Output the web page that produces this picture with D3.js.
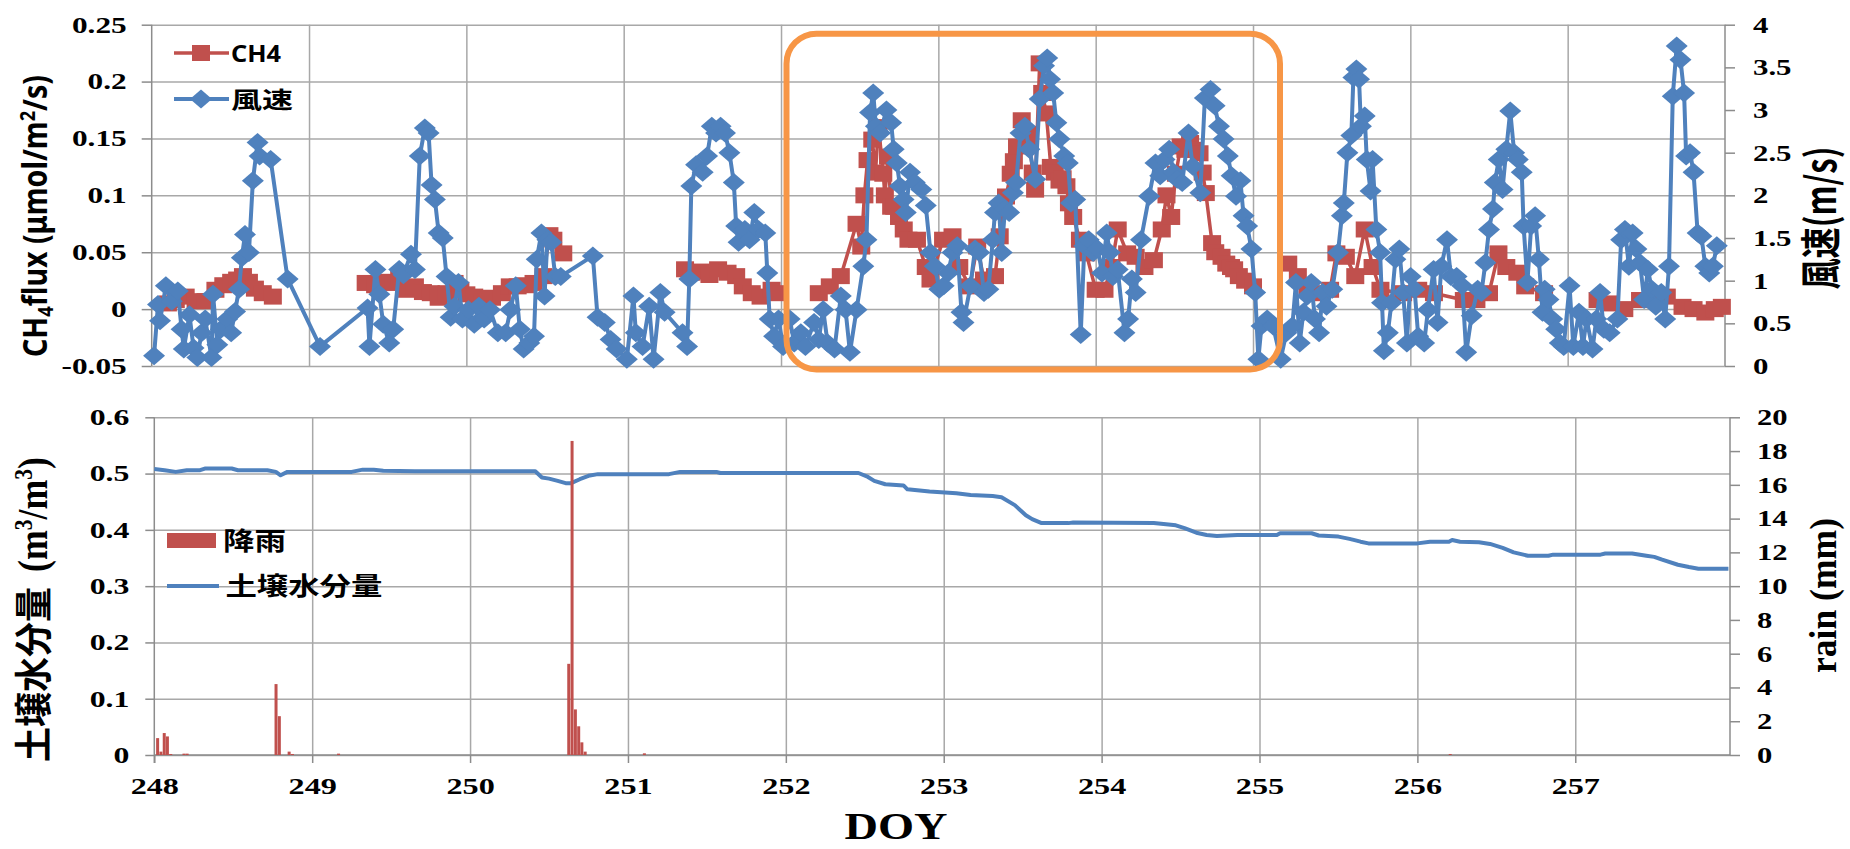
<!DOCTYPE html>
<html><head><meta charset="utf-8">
<script src="https://cdn.jsdelivr.net/npm/d3@7"></script>
<style>body{margin:0;background:#fff}svg{display:block}</style>
</head><body>
<svg id="c" width="1850" height="849"></svg>
<script>
// ---------- DATA ----------
const windDay = [248.015,248.04,248.053,248.09,248.128,248.166,248.19,248.204,248.24,248.266,248.29,248.317,248.34,248.38,248.39,248.417,248.44,248.48,248.505,248.53,248.555,248.573,248.593,248.618,248.643,248.673,248.686,248.756,248.864,249.07,249.372,249.384,249.422,249.447,249.472,249.51,249.535,249.573,249.6,249.648,249.673,249.704,249.736,249.76,249.779,249.8,249.824,249.85,249.874,249.9,249.925,249.95,249.975,250.013,250.05,250.08,250.113,250.15,250.2,250.25,250.28,250.314,250.34,250.364,250.4,250.43,250.447,250.477,250.497,250.515,250.54,250.565,250.6,250.804,250.834,250.88,250.917,250.955,
251.02,251.062,251.077,251.12,251.162,251.19,251.233,251.26,251.374,251.403,251.417,251.43,251.46,251.502,251.53,251.56,251.587,251.616,251.644,251.672,251.7,251.715,251.73,251.77,251.8,251.83,251.857,251.9,251.913,251.928,251.956,251.984,252.013,252.055,252.084,252.126,252.155,252.21,252.24,252.268,252.296,252.34,252.38,252.41,252.438,252.48,252.523,252.543,252.566,252.586,252.603,252.63,252.67,252.7,252.716,252.736,252.756,252.779,252.793,252.82,252.85,252.892,252.92,252.95,252.977,253.006,253.034,253.062,253.09,253.12,253.147,253.16,253.204,253.233,253.26,253.29,253.318,253.346,253.36,253.383,253.403,253.423,253.45,253.474,253.494,253.522,253.55,253.579,253.616,253.644,253.672,253.692,253.71,253.73,253.75,253.77,253.8,253.823,253.843,253.87,253.905,253.928,253.956,253.984,254.013,254.04,254.07,254.09,254.11,254.14,254.183,254.206,254.23,254.254,254.288,254.34,254.38,254.41,254.438,254.467,254.495,254.518,254.55,254.59,254.617,254.665,254.694,254.73,254.756,254.784,254.813,254.84,254.864,254.892,254.92,254.94,254.963,254.99,255.014,255.034,
255.054,255.09,255.127,255.176,255.212,255.25,255.273,255.297,255.32,255.346,255.37,255.394,255.42,255.443,255.467,255.504,255.54,255.565,255.577,255.6,255.625,255.638,255.657,255.674,255.686,255.71,255.723,255.747,255.76,255.784,255.808,255.82,255.832,255.857,255.88,255.905,255.93,255.954,255.978,256.002,256.027,256.05,256.088,256.112,256.148,256.173,256.197,256.233,256.258,256.294,256.33,256.355,256.39,256.428,256.452,256.477,256.5,256.525,256.537,256.562,256.586,256.61,256.635,256.66,256.683,256.708,256.72,256.744,256.768,256.793,256.817,256.84,256.854,256.878,256.902,256.927,256.95,256.975,257.012,257.036,257.072,257.097,257.12,257.158,257.182,257.206,257.23,257.267,257.316,257.34,257.364,257.389,257.413,257.437,257.46,257.486,257.51,257.535,257.56,257.595,257.62,257.644,257.668,257.693,257.717,257.74,257.753,257.778,257.8,257.826,257.85,257.875,257.9,257.923,257.948];
const windSpeed = [0.12,0.72,0.53,0.94,0.76,0.88,0.43,0.2,0.6,0.21,0.1,0.39,0.55,0.1,0.84,0.25,0.43,0.55,0.39,0.64,0.9,1.27,1.54,1.33,2.17,2.62,2.46,2.42,1.02,0.23,0.68,0.23,1.13,0.84,0.49,0.27,0.43,1.13,1.07,1.31,1.13,2.46,2.79,2.73,2.12,1.95,1.56,1.5,1.05,0.57,0.7,0.98,0.55,0.66,0.49,0.7,0.55,0.66,0.39,0.39,0.66,0.94,0.43,0.2,0.27,0.35,1.25,1.56,0.82,1.48,1.45,1.05,1.05,1.29,0.57,0.51,0.31,0.2,
0.08,0.82,0.39,0.23,0.7,0.08,0.86,0.63,0.39,0.23,1.02,2.11,2.36,2.27,2.46,2.81,2.73,2.81,2.73,2.5,2.15,1.64,1.45,1.6,1.48,1.8,1.6,1.56,1.09,0.55,0.35,0.55,0.23,0.55,0.27,0.39,0.23,0.51,0.31,0.66,0.27,0.2,0.82,0.66,0.16,0.66,1.17,1.48,2.97,3.2,2.81,2.73,3.0,2.85,2.54,2.38,2.11,1.95,1.8,2.27,2.15,2.07,1.88,1.33,1.17,0.9,0.94,1.09,1.33,1.41,0.63,0.51,0.94,1.37,1.33,0.86,0.9,1.48,1.8,1.91,1.33,1.84,1.8,2.03,2.15,2.73,2.81,2.54,2.19,3.13,3.52,3.61,3.36,3.2,2.85,2.66,2.46,2.38,1.91,1.95,0.37,1.41,1.48,1.33,1.37,1.09,1.56,1.33,1.05,1.13,0.39,0.55,1.02,0.86,1.48,1.99,2.38,2.23,2.42,2.54,2.27,2.19,2.15,2.73,2.34,2.03,3.14,3.24,3.05,2.81,2.66,2.46,2.23,1.99,2.17,1.76,1.64,1.37,0.86,0.08,
0.47,0.55,0.47,0.08,0.39,0.47,0.98,0.27,0.63,0.82,0.98,0.55,0.39,0.86,0.7,0.9,1.33,1.76,1.91,2.5,2.7,3.38,3.48,3.36,2.81,2.93,2.42,2.05,2.42,1.6,1.33,0.74,0.18,0.39,0.74,1.25,1.37,0.86,0.27,1.05,0.9,0.35,0.27,0.66,1.13,0.51,1.17,1.48,1.05,1.05,0.94,0.16,0.59,0.9,0.86,1.21,1.6,1.84,2.15,2.42,2.07,2.54,2.99,2.5,2.42,2.27,1.64,0.98,1.64,1.76,1.25,0.63,0.9,0.78,0.55,0.43,0.27,0.23,0.94,0.23,0.63,0.23,0.55,0.2,0.55,0.86,0.43,0.39,0.55,1.48,1.6,1.17,1.56,1.37,1.21,0.78,1.13,0.9,0.7,0.86,0.55,1.17,3.16,3.75,3.59,3.2,2.46,2.5,2.27,1.56,1.52,1.17,1.09,1.17,1.41];

const ch4Day = [248.103,248.153,248.216,248.279,248.342,248.405,248.455,248.505,248.543,248.58,248.618,248.656,248.706,248.77,249.36,249.42,249.47,249.535,249.573,249.623,249.673,249.724,249.774,249.824,249.874,249.925,249.962,250.0,250.05,250.1,250.163,250.226,250.276,250.326,250.374,250.427,250.49,250.528,250.553,250.616,251.39,251.43,251.49,251.545,251.6,251.66,251.715,251.757,251.814,251.87,251.94,251.984,252.24,252.31,252.38,252.48,252.51,252.53,252.55,252.58,252.6,252.62,252.65,252.66,252.68,252.7,252.72,252.75,252.78,252.81,252.864,252.92,252.95,253.03,253.09,253.133,253.2,253.247,253.29,253.36,253.39,253.43,253.46,253.48,253.5,253.53,253.56,253.573,253.6,253.615,253.644,253.66,253.686,253.715,253.74,253.77,253.79,253.814,253.83,253.857,253.9,253.94,254.0,254.056,254.1,254.14,254.2,254.254,254.31,254.37,254.42,254.45,254.48,254.51,254.54,254.57,254.6,254.63,254.66,254.68,254.7,254.74,254.76,254.8,254.83,254.86,254.88,254.91,254.95,255.0,255.224,255.285,255.346,255.42,255.49,255.53,255.59,255.65,255.71,255.76,255.81,255.954,256.05,256.15,256.34,256.42,256.5,256.56,256.61,256.68,256.73,256.85,257.19,257.27,257.36,257.46,257.56,257.63,257.73,257.8,257.875,257.935,257.98];
const ch4Flux = [0.005,0.008,0.011,0.007,0.007,0.017,0.021,0.024,0.026,0.029,0.024,0.018,0.014,0.011,0.023,0.021,0.024,0.023,0.029,0.017,0.02,0.015,0.014,0.01,0.014,0.023,0.017,0.013,0.011,0.007,0.01,0.014,0.02,0.02,0.021,0.023,0.029,0.065,0.061,0.049,0.035,0.032,0.033,0.03,0.035,0.032,0.029,0.02,0.014,0.011,0.017,0.014,0.014,0.02,0.029,0.075,0.055,0.1,0.131,0.149,0.12,0.16,0.119,0.1,0.134,0.09,0.09,0.081,0.07,0.061,0.061,0.037,0.026,0.061,0.064,0.037,0.02,0.055,0.026,0.029,0.064,0.099,0.119,0.13,0.143,0.166,0.15,0.154,0.12,0.105,0.216,0.19,0.172,0.125,0.12,0.113,0.115,0.108,0.093,0.081,0.061,0.049,0.017,0.017,0.037,0.07,0.049,0.046,0.037,0.043,0.07,0.1,0.081,0.119,0.143,0.14,0.146,0.14,0.137,0.12,0.102,0.058,0.05,0.046,0.04,0.037,0.035,0.029,0.025,0.02,0.04,0.029,0.02,0.014,0.017,0.049,0.046,0.029,0.07,0.037,0.017,0.014,0.017,0.014,0.008,0.008,0.014,0.049,0.037,0.032,0.02,0.014,0.008,0.005,0.0,0.008,0.011,0.011,0.002,0.0,-0.003,0.0,0.002];

const soilDay = [248.0,248.065,248.136,248.206,248.29,248.32,248.49,248.53,248.716,248.77,248.8,248.843,249.25,249.32,249.39,249.45,249.65,250.413,250.455,250.5,250.555,250.605,250.64,250.695,250.75,250.81,251.26,251.33,251.56,251.585,252.46,252.52,252.56,252.63,252.745,252.77,252.91,253.08,253.17,253.31,253.366,253.45,253.52,253.56,253.62,253.79,253.82,254.33,254.47,254.525,254.6,254.665,254.73,254.86,255.11,255.13,255.33,255.375,255.5,255.57,255.64,255.69,256.0,256.08,256.2,256.22,256.27,256.39,256.46,256.54,256.61,256.7,256.83,256.86,257.16,257.19,257.36,257.45,257.5,257.55,257.65,257.72,257.78,257.97];
const soilMoisture = [0.508,0.506,0.503,0.506,0.506,0.509,0.509,0.506,0.506,0.503,0.497,0.503,0.503,0.507,0.507,0.505,0.504,0.504,0.493,0.491,0.487,0.483,0.483,0.49,0.496,0.499,0.499,0.503,0.503,0.501,0.501,0.494,0.487,0.481,0.479,0.472,0.468,0.465,0.462,0.46,0.458,0.444,0.426,0.419,0.412,0.412,0.413,0.412,0.408,0.403,0.395,0.391,0.389,0.391,0.391,0.394,0.394,0.39,0.388,0.384,0.379,0.376,0.376,0.379,0.379,0.382,0.379,0.378,0.375,0.368,0.36,0.354,0.354,0.356,0.356,0.358,0.358,0.354,0.352,0.347,0.338,0.334,0.331,0.331];

const rainDay = [248.021,248.042,248.063,248.083,248.104,248.188,248.208,248.771,248.792,248.854,248.875,249.167,250.625,250.646,250.667,250.688,250.708,250.729,251.104,256.208];
const rainMm  = [1.0,0.2,1.3,1.1,0.06,0.08,0.08,4.2,2.3,0.2,0.06,0.08,5.4,18.6,2.7,1.7,0.75,0.2,0.1,0.06];

const ch4Ticks = [-0.05,0,0.05,0.1,0.15,0.2,0.25];
const ch4TickLabels = ['-0.05','0','0.05','0.1','0.15','0.2','0.25'];
const windTicks = [0,0.5,1,1.5,2,2.5,3,3.5,4];
const windTickLabels = ['0','0.5','1','1.5','2','2.5','3','3.5','4'];
const soilTicks = [0,0.1,0.2,0.3,0.4,0.5,0.6];
const soilTickLabels = ['0','0.1','0.2','0.3','0.4','0.5','0.6'];
const rainTicks = [0,2,4,6,8,10,12,14,16,18,20];
const dayTicks = [248,249,250,251,252,253,254,255,256,257];
const dayGrid = [249,250,251,252,253,254,255,256,257];

// ---------- SETUP ----------
const svg = d3.select('#c');
const GRID='#a8a8a8', AX='#8c8c8c', RED='#C0504D', BLUE='#4F81BD', ORANGE='#F79646';
const serif='"Liberation Serif","Times New Roman",serif';
const sans='"Noto Sans","DejaVu Sans",sans-serif';
const cjk='"Noto Sans CJK JP","Noto Sans CJK SC",sans-serif';

const T={l:151.7,r:1725,t:24.7,b:366};
const B={l:154.3,r:1730,t:417.3,b:755};

const xTop=d3.scaleLinear().domain([248,258]).range([T.l,T.r]);
const yCH4=d3.scaleLinear().domain([-0.05,0.25]).range([T.b,T.t]);
const yWind=d3.scaleLinear().domain([0,4]).range([T.b,T.t]);
const xBot=d3.scaleLinear().domain([248,257.98]).range([B.l,B.r]);
const ySoil=d3.scaleLinear().domain([0,0.6]).range([B.b,B.t]);
const yRain=d3.scaleLinear().domain([0,20]).range([B.b,B.t]);

function stretch(sel,k){ sel.each(function(){ const w=this.getComputedTextLength(); d3.select(this).attr('textLength',w*k).attr('lengthAdjust','spacingAndGlyphs'); }); }
function grid(g,axis){ g.call(axis); g.select('.domain').remove(); g.selectAll('text').remove(); g.selectAll('line').attr('stroke',GRID).attr('stroke-width',1.5); }
function styleAxis(g,k,fs){ g.attr('font-family',null).attr('font-size',null);
  g.select('.domain').remove(); g.selectAll('line').attr('stroke',AX).attr('stroke-width',1.5);
  g.selectAll('text').style('font-family',serif).style('font-weight','bold').style('font-size',(fs||23)+'px').attr('fill','#000'); stretch(g.selectAll('text'),k); }

// ---------- TOP PANEL ----------
svg.append('g').attr('transform',`translate(${T.l},0)`).call(g=>grid(g,d3.axisLeft(yCH4).tickValues(ch4Ticks).tickSize(-(T.r-T.l))));
svg.append('g').attr('transform',`translate(0,${T.b})`).call(g=>grid(g,d3.axisBottom(xTop).tickValues(dayGrid).tickSizeInner(-(T.b-T.t))));
svg.append('g').attr('transform',`translate(${T.l},0)`).call(d3.axisLeft(yCH4).tickValues(ch4Ticks).tickFormat((d,i)=>ch4TickLabels[i]).tickSize(10).tickPadding(15)).call(g=>styleAxis(g,1.36));
svg.append('g').attr('transform',`translate(${T.r},0)`).call(d3.axisRight(yWind).tickValues(windTicks).tickFormat((d,i)=>windTickLabels[i]).tickSize(10).tickPadding(18)).call(g=>styleAxis(g,1.34));
svg.append('line').attr('x1',T.l).attr('x2',T.l).attr('y1',T.t).attr('y2',T.b).attr('stroke',AX).attr('stroke-width',1.5);
svg.append('line').attr('x1',T.r).attr('x2',T.r).attr('y1',T.t).attr('y2',T.b).attr('stroke',AX).attr('stroke-width',1.5);

// CH4 series (line segments + squares)
const ch4 = ch4Day.map((d,i)=>({d,v:ch4Flux[i]}));
const segs=[]; ch4.forEach((p,i)=>{ if(i===0||p.d-ch4[i-1].d>0.2) segs.push([]); segs[segs.length-1].push(p); });
const lineC = d3.line().x(p=>xTop(p.d)).y(p=>yCH4(p.v));
svg.append('g').selectAll('path').data(segs).join('path').attr('d',lineC).attr('fill','none').attr('stroke',RED).attr('stroke-width',3.5).attr('stroke-linejoin','round');
svg.append('g').selectAll('rect').data(ch4).join('rect')
  .attr('x',p=>xTop(p.d)-9).attr('y',p=>yCH4(p.v)-8).attr('width',18).attr('height',16).attr('fill',RED);

// Wind series (line + diamonds)
const wind = windDay.map((d,i)=>({d,v:windSpeed[i]}));
const lineW = d3.line().x(p=>xTop(p.d)).y(p=>yWind(p.v));
svg.append('path').datum(wind).attr('d',lineW).attr('fill','none').attr('stroke',BLUE).attr('stroke-width',4).attr('stroke-linejoin','round');
const diamond='M0,-9.5L11,0L0,9.5L-11,0Z';
svg.append('g').selectAll('path').data(wind).join('path')
  .attr('transform',p=>`translate(${xTop(p.d)},${yWind(p.v)})`).attr('d',diamond).attr('fill',BLUE);

// Orange highlight box
svg.append('rect').attr('x',786.5).attr('y',33.7).attr('width',493.5).attr('height',335.8).attr('rx',30).attr('ry',30)
  .attr('fill','none').attr('stroke',ORANGE).attr('stroke-width',6);

// Top legend
svg.append('line').attr('x1',174).attr('x2',229).attr('y1',53).attr('y2',53).attr('stroke',RED).attr('stroke-width',3.5);
svg.append('rect').attr('x',192).attr('y',45).attr('width',18).attr('height',16).attr('fill',RED);
svg.append('text').attr('x',231).attr('y',61.7).attr('font-family',sans).attr('font-weight','bold').attr('font-size',23)
  .attr('textLength',50).attr('lengthAdjust','spacingAndGlyphs').text('CH4');
svg.append('line').attr('x1',174).attr('x2',229).attr('y1',99).attr('y2',99).attr('stroke',BLUE).attr('stroke-width',4);
svg.append('path').attr('transform','translate(201,99)').attr('d',diamond).attr('fill',BLUE);
svg.append('text').attr('x',231).attr('y',108).attr('font-family',cjk).attr('font-weight','bold').attr('font-size',23)
  .attr('textLength',62).attr('lengthAdjust','spacingAndGlyphs').text('風速');

// Top axis titles
const t1 = svg.append('text').attr('transform','translate(47.4,216) scale(1.37,1) rotate(-90)').attr('text-anchor','middle')
  .attr('font-family',sans).attr('font-weight','bold').attr('font-size',25).attr('textLength',282).attr('lengthAdjust','spacingAndGlyphs');
t1.append('tspan').text('CH');
t1.append('tspan').attr('font-size',16).attr('dy',4).text('4');
t1.append('tspan').attr('dy',-4).text('flux (μmol/m');
t1.append('tspan').attr('font-size',16).attr('dy',-9).text('2');
t1.append('tspan').attr('dy',9).text('/s)');
svg.append('text').attr('transform','translate(1836,218) scale(1.32,1) rotate(-90)').attr('text-anchor','middle')
  .attr('font-family',cjk).attr('font-weight','bold').attr('font-size',31).attr('textLength',143).attr('lengthAdjust','spacingAndGlyphs').text('風速(m/s)');

// ---------- BOTTOM PANEL ----------
svg.append('g').attr('transform',`translate(${B.l},0)`).call(g=>grid(g,d3.axisLeft(ySoil).tickValues(soilTicks).tickSize(-(B.r-B.l))));
svg.append('g').attr('transform',`translate(0,${B.b})`).call(g=>grid(g,d3.axisBottom(xBot).tickValues(dayGrid).tickSizeInner(-(B.b-B.t))));
svg.append('g').attr('transform',`translate(${B.l},0)`).call(d3.axisLeft(ySoil).tickValues(soilTicks).tickFormat((d,i)=>soilTickLabels[i]).tickSize(9).tickPadding(16)).call(g=>styleAxis(g,1.38));
svg.append('g').attr('transform',`translate(${B.r},0)`).call(d3.axisRight(yRain).tickValues(rainTicks).tickSize(10).tickPadding(17)).call(g=>styleAxis(g,1.33));
svg.append('g').attr('transform',`translate(0,${B.b})`).call(d3.axisBottom(xBot).tickValues(dayTicks).tickFormat(d3.format('d')).tickSize(8).tickPadding(15)).call(g=>styleAxis(g,1.4));
svg.append('line').attr('x1',B.l).attr('x2',B.l).attr('y1',B.t).attr('y2',B.b+8).attr('stroke',AX).attr('stroke-width',1.5);
svg.append('line').attr('x1',B.r).attr('x2',B.r).attr('y1',B.t).attr('y2',B.b).attr('stroke',AX).attr('stroke-width',1.5);
svg.append('line').attr('x1',B.l).attr('x2',B.r).attr('y1',B.b).attr('y2',B.b).attr('stroke',AX).attr('stroke-width',1.5);

// soil moisture line
const soil = soilDay.map((d,i)=>({d,v:soilMoisture[i]}));
svg.append('path').datum(soil).attr('d',d3.line().x(p=>xBot(p.d)).y(p=>ySoil(p.v))).attr('fill','none').attr('stroke',BLUE).attr('stroke-width',4).attr('stroke-linejoin','round');
// rain bars
const rain = rainDay.map((d,i)=>({d,v:rainMm[i]}));
svg.append('g').selectAll('rect').data(rain).join('rect')
  .attr('x',p=>xBot(p.d)-1.5).attr('width',3).attr('y',p=>yRain(p.v)).attr('height',p=>yRain(0)-yRain(p.v)).attr('fill',RED);

// Bottom legend
svg.append('rect').attr('x',167).attr('y',533).attr('width',49).attr('height',15).attr('fill',RED);
svg.append('text').attr('x',223).attr('y',549.5).attr('font-family',cjk).attr('font-weight','bold').attr('font-size',25)
  .attr('textLength',63).attr('lengthAdjust','spacingAndGlyphs').text('降雨');
svg.append('line').attr('x1',167).attr('x2',219).attr('y1',586).attr('y2',586).attr('stroke',BLUE).attr('stroke-width',4);
svg.append('text').attr('x',225.4).attr('y',594.5).attr('font-family',cjk).attr('font-weight','bold').attr('font-size',25)
  .attr('textLength',157).attr('lengthAdjust','spacingAndGlyphs').text('土壌水分量');

// Bottom axis titles
svg.append('text').attr('transform','translate(46.5,762) scale(1.08,1) rotate(-90)').attr('text-anchor','start')
  .attr('font-family',cjk).attr('font-weight','bold').attr('font-size',35).attr('textLength',175).attr('lengthAdjust','spacingAndGlyphs').text('土壌水分量');
const t3 = svg.append('text').attr('transform','translate(46.8,572) scale(1.39,1) rotate(-90)').attr('text-anchor','start')
  .attr('font-family',serif).attr('font-weight','bold').attr('font-size',30).attr('textLength',115).attr('lengthAdjust','spacingAndGlyphs');
t3.append('tspan').text('(m');
t3.append('tspan').attr('font-size',18).attr('dy',-11).text('3');
t3.append('tspan').attr('dy',11).text('/m');
t3.append('tspan').attr('font-size',18).attr('dy',-11).text('3');
t3.append('tspan').attr('dy',11).text(')');
svg.append('text').attr('transform','translate(1836,673) scale(1.2,1) rotate(-90)').attr('text-anchor','start')
  .attr('font-family',serif).attr('font-weight','bold').attr('font-size',32).attr('textLength',155).attr('lengthAdjust','spacingAndGlyphs').text('rain (mm)');
svg.append('text').attr('x',896).attr('y',839).attr('text-anchor','middle').attr('font-family',serif).attr('font-weight','bold')
  .attr('font-size',38).attr('textLength',103).attr('lengthAdjust','spacingAndGlyphs').text('DOY');
</script>
</body></html>
